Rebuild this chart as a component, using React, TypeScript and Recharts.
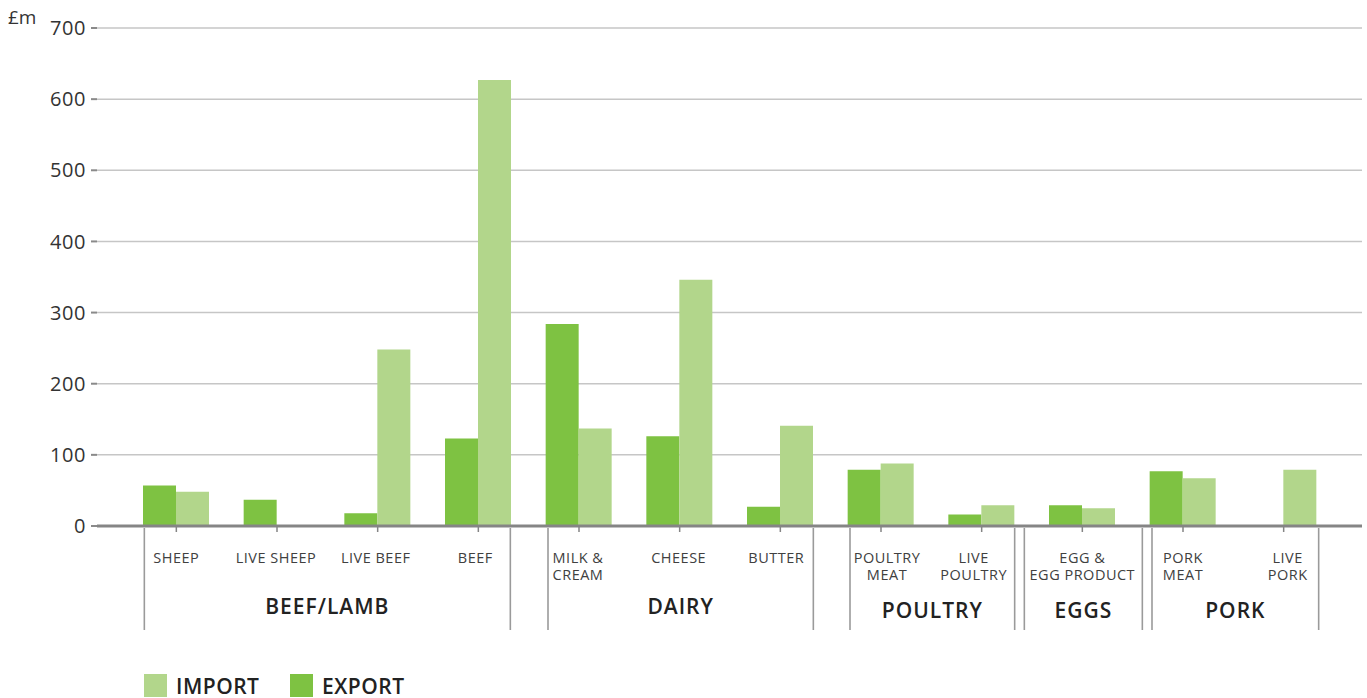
import React from 'react';
import { BarChart, Bar, XAxis, YAxis, CartesianGrid } from 'recharts';

// Livestock trade by product, £m
const categories = [
  'SHEEP', 'LIVE SHEEP', 'LIVE BEEF', 'BEEF',
  'MILK & CREAM', 'CHEESE', 'BUTTER',
  'POULTRY MEAT', 'LIVE POULTRY',
  'EGG & EGG PRODUCT',
  'PORK MEAT', 'LIVE PORK',
];
const categoryLines = [
  ['SHEEP'], ['LIVE SHEEP'], ['LIVE BEEF'], ['BEEF'],
  ['MILK &', 'CREAM'], ['CHEESE'], ['BUTTER'],
  ['POULTRY', 'MEAT'], ['LIVE', 'POULTRY'],
  ['EGG &', 'EGG PRODUCT'],
  ['PORK', 'MEAT'], ['LIVE', 'PORK'],
];
const exportValues = [57, 37, 18, 123, 284, 126, 27, 79, 16, 29, 77, 0];
const importValues = [48, 0, 248, 627, 137, 346, 141, 88, 29, 25, 67, 79];
const groupNames = ['BEEF/LAMB', 'DAIRY', 'POULTRY', 'EGGS', 'PORK'];
const groupSizes = [4, 3, 2, 1, 2];
const yTicks = [0, 100, 200, 300, 400, 500, 600, 700];

const data = categories.map((name, i) => ({
  name,
  exp: exportValues[i],
  imp: importValues[i],
}));

// Layout
const W = 1367;
const H = 698;
const MARGIN = { top: 28, right: 5, bottom: 62, left: 37 };
const Y_AXIS_W = 60;
const X_AXIS_H = 110;
const X_PAD = { left: 29, right: 28 };
const PLOT_LEFT = MARGIN.left + Y_AXIS_W;
const PLOT_W = W - PLOT_LEFT - MARGIN.right;
const PLOT_BOTTOM = H - MARGIN.bottom - X_AXIS_H;
const BAND = (PLOT_W - X_PAD.left - X_PAD.right) / categories.length;
const BAR_SIZE = 33;

// Horizontal nudges so category labels clear the group frame lines
const labelDx = [0, -1, -2, -3, -1, -1, -4, 6, -8, 0, 0, 4];
// Group frame extents around the outer bars, and label baseline offsets
const groupPadLeft = [32, 31, 31, 58, 31];
const groupPadRight = [32, 33, 33, 60, 35];
const groupLabelDy = [88, 88, 92, 92, 92];

const EXPORT_COLOR = '#7EC242';
const IMPORT_COLOR = '#B2D68B';
const FONT = '"Open Sans", sans-serif';

const groupStart: number[] = [];
const groupOf: number[] = [];
{
  let k = 0;
  groupSizes.forEach((n, g) => {
    groupStart.push(k);
    for (let j = 0; j < n; j++) groupOf.push(g);
    k += n;
  });
}

const CategoryTick = (props: any) => {
  const { x, payload } = props;
  const i = payload.index;
  const lines = categoryLines[i];
  const g = groupOf[i];
  const first = groupStart[g] === i;
  const last = groupStart[g] + groupSizes[g] - 1 === i;
  const lineTop = PLOT_BOTTOM + 2;
  const lineBottom = PLOT_BOTTOM + 104;
  const left = x - groupPadLeft[g];
  const right = x + (groupSizes[g] - 1) * BAND + groupPadRight[g];
  return (
    <g>
      {lines.map((t: string, k: number) => (
        <text
          key={k}
          x={x + labelDx[i]}
          y={PLOT_BOTTOM + 37 + k * 17}
          textAnchor="middle"
          fontFamily={FONT}
          fontSize={14.5}
          letterSpacing={0.5}
          fill="#404040"
        >
          {t}
        </text>
      ))}
      {first && (
        <>
          <line x1={left} x2={left} y1={lineTop} y2={lineBottom} stroke="#9a9a9a" strokeWidth={1.6} />
          <text
            x={(left + right) / 2}
            y={PLOT_BOTTOM + groupLabelDy[g]}
            textAnchor="middle"
            fontFamily={FONT}
            fontSize={21}
            fontWeight={600}
            letterSpacing={1}
            fill="#222"
          >
            {groupNames[g]}
          </text>
        </>
      )}
      {last && (
        <line x1={x + groupPadRight[g]} x2={x + groupPadRight[g]} y1={lineTop} y2={lineBottom} stroke="#9a9a9a" strokeWidth={1.6} />
      )}
    </g>
  );
};

const legendItems = [
  { label: 'IMPORT', color: IMPORT_COLOR, left: 144 },
  { label: 'EXPORT', color: EXPORT_COLOR, left: 290 },
];

export default function App() {
  return (
    <div style={{ position: 'absolute', left: 0, top: 0, width: W, height: H, background: '#fff' }}>
      <div
        style={{
          position: 'absolute',
          left: 8,
          top: 4,
          fontFamily: FONT,
          fontSize: 19,
          color: '#333',
          lineHeight: '26px',
        }}
      >
        £m
      </div>
      <BarChart
        width={W}
        height={H}
        data={data}
        margin={MARGIN}
        barGap={0}
      >
        <CartesianGrid vertical={false} stroke="#c6c6c6" strokeWidth={1.5} />
        <XAxis
          dataKey="name"
          height={X_AXIS_H}
          padding={X_PAD}
          interval={0}
          axisLine={{ stroke: '#858585', strokeWidth: 3 }}
          tickLine={{ stroke: '#858585', strokeWidth: 1.5 }}
          tickSize={6}
          tick={<CategoryTick />}
        />
        <YAxis
          width={Y_AXIS_W}
          domain={[0, 700]}
          ticks={yTicks}
          axisLine={false}
          tickLine={{ stroke: '#8a8a8a', strokeWidth: 2 }}
          tickSize={6}
          tickMargin={5}
          tick={{ fontFamily: FONT, fontSize: 20, fill: '#333', letterSpacing: 0.6 }}
        />
        <Bar dataKey="exp" name="EXPORT" fill={EXPORT_COLOR} barSize={BAR_SIZE} isAnimationActive={false} />
        <Bar dataKey="imp" name="IMPORT" fill={IMPORT_COLOR} barSize={BAR_SIZE} isAnimationActive={false} />
      </BarChart>
      {legendItems.map((it) => (
        <div
          key={it.label}
          style={{
            position: 'absolute',
            left: it.left,
            top: 674,
            height: 23,
            display: 'flex',
            alignItems: 'center',
            fontFamily: FONT,
            fontSize: 21,
            fontWeight: 600,
            letterSpacing: 0.5,
            color: '#222',
          }}
        >
          <span style={{ display: 'inline-block', width: 23, height: 23, background: it.color, marginRight: 9 }} />
          <span>{it.label}</span>
        </div>
      ))}
    </div>
  );
}
